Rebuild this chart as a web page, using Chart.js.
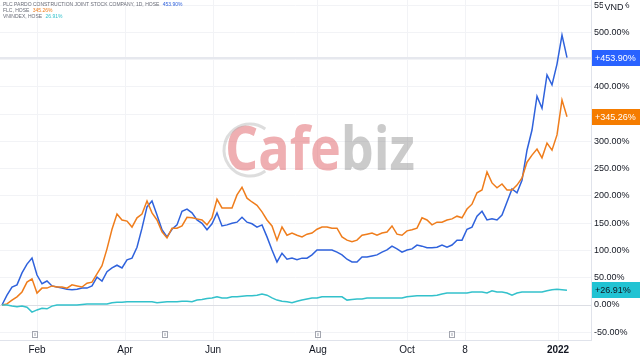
<!DOCTYPE html>
<html>
<head>
<meta charset="utf-8">
<script src="https://cdn.jsdelivr.net/npm/chart.js@4.4.0/dist/chart.umd.min.js"></script>
<style>
  html, body { margin: 0; padding: 0; background: #fff; }
  #wrap { width: 640px; height: 361px; }
</style>
</head>
<body>
<div id="wrap"><canvas id="chart_canvas" width="640" height="361"></canvas></div>
<script>
// % change since start, one value per ~3 trading days
const plcValues = [0, 18, 33, 37, 59, 75, 86, 55, 39, 44, 35, 33, 31, 29, 28, 29, 31, 31, 35, 51,
  44, 61, 68, 73, 68, 83, 86, 106, 141, 180, 191, 165, 138, 125, 139, 147, 172, 176, 169, 156,
  150, 138, 149, 169, 145, 147, 150, 152, 161, 152, 149, 143, 147, 125, 101, 79, 95, 84, 86, 83,
  86, 86, 92, 101, 101, 101, 101, 97, 92, 84, 79, 79, 88, 88, 90, 92, 97, 101, 108, 103,
  97, 101, 103, 110, 108, 105, 105, 106, 110, 106, 110, 119, 119, 139, 143, 163, 172, 156, 158, 156,
  165, 189, 213, 206, 229, 284, 321, 383, 361, 422, 404, 442, 495, 453.9];
const flcValues = [0, 2, 9, 15, 24, 42, 48, 22, 31, 31, 35, 33, 33, 31, 37, 35, 33, 40, 42, 57,
  72, 103, 139, 167, 156, 154, 143, 160, 167, 191, 169, 156, 134, 123, 141, 141, 145, 161, 160, 158,
  156, 147, 160, 194, 178, 178, 178, 202, 216, 196, 189, 183, 171, 156, 145, 119, 143, 128, 132, 128,
  125, 130, 132, 139, 143, 143, 141, 141, 125, 119, 116, 119, 128, 130, 132, 128, 132, 134, 145, 130,
  128, 136, 138, 141, 160, 156, 147, 152, 152, 156, 158, 163, 160, 176, 185, 206, 211, 244, 224, 215,
  222, 211, 211, 220, 233, 262, 275, 286, 270, 297, 284, 312, 376, 345.26];
const vnindexValues = [0, 0, -2, -3, -2, -4, -13, -9, -6, -7, -2, 0, 0, 0, 0, 0, 1, 2, 2, 2,
  2, 2, 4, 5, 5, 6, 6, 6, 6, 6, 6, 4, 5, 6, 6, 6, 7, 7, 6, 9,
  10, 12, 13, 15, 13, 13, 15, 15, 16, 17, 17, 18, 20, 18, 13, 9, 7, 6, 4, 7,
  9, 11, 13, 13, 15, 15, 15, 15, 15, 9, 10, 11, 11, 13, 13, 13, 13, 13, 13, 13,
  13, 15, 16, 17, 17, 17, 17, 18, 20, 22, 22, 22, 22, 22, 24, 24, 24, 22, 26, 24,
  24, 22, 18, 22, 24, 24, 24, 24, 24, 26, 28, 29, 28, 26.91];

const seriesNames = ['PLC PARDO CONSTRUCTION JOINT STOCK COMPANY, 1D, HOSE', 'FLC, HOSE', 'VNINDEX, HOSE'];
const seriesColors = ['#2f62dc', '#ef7d1c', '#33c1cb'];
const badgeColors = ['#2962ff', '#f57c00', '#22c3d3'];
const badgeText = ['#ffffff', '#ffffff', '#131722'];

// x axis: month labels at sample index
const tickLabels = ['Feb', 'Apr', 'Jun', 'Aug', 'Oct', '8', '2022'];
const tickIndex = [7, 24.6, 42.2, 63.2, 81, 92.6, 111.2];
const earningsIndex = [6.6, 32.6, 63.2, 90];

const allSeries = [plcValues, flcValues, vnindexValues];

const fmt = v => (v >= 0 ? '+' : '') + v.toFixed(2) + '%';

const chartPlugin = {
  id: 'tvExtras',
  beforeDatasetsDraw(chart) {
    const ctx = chart.ctx;
    const a = chart.chartArea;
    // watermark
    ctx.save();
    ctx.font = 'bold 60px "Open Sans"';
    const w1 = ctx.measureText('Cafe').width;
    const w2 = ctx.measureText('biz').width;
    const k = 190 / (w1 + w2);
    ctx.translate(225, 170);
    ctx.scale(k, 1);
    ctx.textBaseline = 'alphabetic';
    ctx.fillStyle = 'rgba(226,110,115,0.55)';
    ctx.fillText('Cafe', 0, 0);
    ctx.fillStyle = 'rgba(140,140,140,0.45)';
    ctx.fillText('biz', w1, 0);
    ctx.restore();
    ctx.save();
    ctx.strokeStyle = 'rgba(180,180,180,0.45)';
    ctx.lineWidth = 3;
    ctx.beginPath();
    ctx.arc(250, 150, 26, Math.PI * 0.3, Math.PI * 1.7);
    ctx.stroke();
    ctx.restore();

    // price line and zero line
    const y = chart.scales.y;
    ctx.save();
    ctx.strokeStyle = '#e6e8ee';
    ctx.lineWidth = 2;
    ctx.beginPath();
    ctx.moveTo(a.left, Math.round(y.getPixelForValue(plcValues[plcValues.length - 1])));
    ctx.lineTo(a.right, Math.round(y.getPixelForValue(plcValues[plcValues.length - 1])));
    ctx.stroke();
    ctx.strokeStyle = '#dcdee4';
    ctx.lineWidth = 1;
    ctx.beginPath();
    ctx.moveTo(a.left, Math.round(y.getPixelForValue(0)) + 0.5);
    ctx.lineTo(a.right, Math.round(y.getPixelForValue(0)) + 0.5);
    ctx.stroke();
    ctx.restore();
  },
  afterDraw(chart) {
    const ctx = chart.ctx;
    const a = chart.chartArea;
    const x = chart.scales.x;
    const y = chart.scales.y;

    // badges on the price scale
    ctx.save();
    ctx.font = '9px "Liberation Sans"';
    ctx.textBaseline = 'middle';
    allSeries.forEach((s, i) => {
      const last = s[s.length - 1];
      const py = y.getPixelForValue(last);
      ctx.fillStyle = badgeColors[i];
      ctx.fillRect(a.right + 1, Math.round(py) - 8, 49, 16);
      ctx.fillStyle = badgeText[i];
      ctx.textAlign = 'left';
      ctx.fillText(fmt(last), a.right + 4, py + 0.5);
    });
    ctx.restore();

    // VND label
    ctx.save();
    ctx.fillStyle = '#fff';
    ctx.fillRect(603, 1, 22, 13);
    ctx.fillStyle = '#131722';
    ctx.font = '9px "Liberation Sans"';
    ctx.textAlign = 'center';
    ctx.textBaseline = 'middle';
    ctx.fillText('VND', 614, 8);
    ctx.restore();

    // earnings markers
    ctx.save();
    ctx.strokeStyle = '#a3a6af';
    ctx.lineWidth = 1;
    earningsIndex.forEach(v => {
      const px = Math.round(x.getPixelForValue(v));
      ctx.strokeRect(px - 2.5, 331.5, 5, 6);
      ctx.beginPath();
      ctx.moveTo(px, 333);
      ctx.lineTo(px, 336);
      ctx.stroke();
    });
    ctx.restore();

    // legend text top left
    ctx.save();
    ctx.font = '5px "Liberation Sans"';
    ctx.textBaseline = 'middle';
    seriesNames.forEach((n, i) => {
      const ly = 5 + i * 6;
      ctx.fillStyle = '#6a6d78';
      ctx.fillText(n, 3, ly);
      const w = ctx.measureText(n + ' ').width;
      ctx.fillStyle = seriesColors[i];
      ctx.fillText(fmt(allSeries[i][allSeries[i].length - 1]).replace('+', ''), 3 + w + 2, ly);
    });
    ctx.restore();
  }
};

const datasets = allSeries.map((s, i) => ({
  label: seriesNames[i],
  data: s.map((v, j) => ({ x: j, y: v })),
  borderColor: seriesColors[i],
  borderWidth: 1.5,
  pointRadius: 0,
  tension: 0,
  fill: false
}));

let ctx = document.getElementById('chart_canvas');
let chart = new Chart(ctx, { // eslint-disable-line no-unused-vars
  type: 'line',
  data: { datasets: datasets.slice().reverse() },
  options: {
    responsive: false,
    animation: false,
    layout: { padding: 0 },
    plugins: { legend: { display: false }, tooltip: { enabled: false } },
    scales: {
      x: {
        type: 'linear',
        min: -0.4,
        max: 117.8,
        afterBuildTicks: scale => { scale.ticks = tickIndex.map(v => ({ value: v })); },
        afterFit: scale => { scale.height = 21; scale.paddingLeft = 0; scale.paddingRight = 0; },
        grid: { color: '#f2f3f6', drawTicks: false },
        border: { color: '#e0e3eb' },
        ticks: {
          padding: 4,
          color: '#131722',
          maxRotation: 0,
          autoSkip: false,
          font: ctx2 => ({ family: 'Liberation Sans', size: 10, weight: ctx2.index === 6 ? 'bold' : 'normal' }),
          callback: (v, i) => tickLabels[i]
        }
      },
      y: {
        position: 'right',
        min: -64.2,
        max: 559.6,
        afterBuildTicks: scale => {
          const t = [];
          for (let v = -50; v <= 550; v += 50) t.push({ value: v });
          scale.ticks = t;
        },
        afterFit: scale => { scale.width = 49; scale.paddingTop = 0; scale.paddingBottom = 0; },
        grid: { color: '#f2f3f6', drawTicks: false },
        border: { color: '#e0e3eb' },
        ticks: {
          padding: 3,
          color: '#131722',
          font: { family: 'Liberation Sans', size: 9 },
          callback: v => v.toFixed(2) + '%'
        }
      }
    }
  },
  plugins: [chartPlugin]
});
</script>
</body>
</html>
